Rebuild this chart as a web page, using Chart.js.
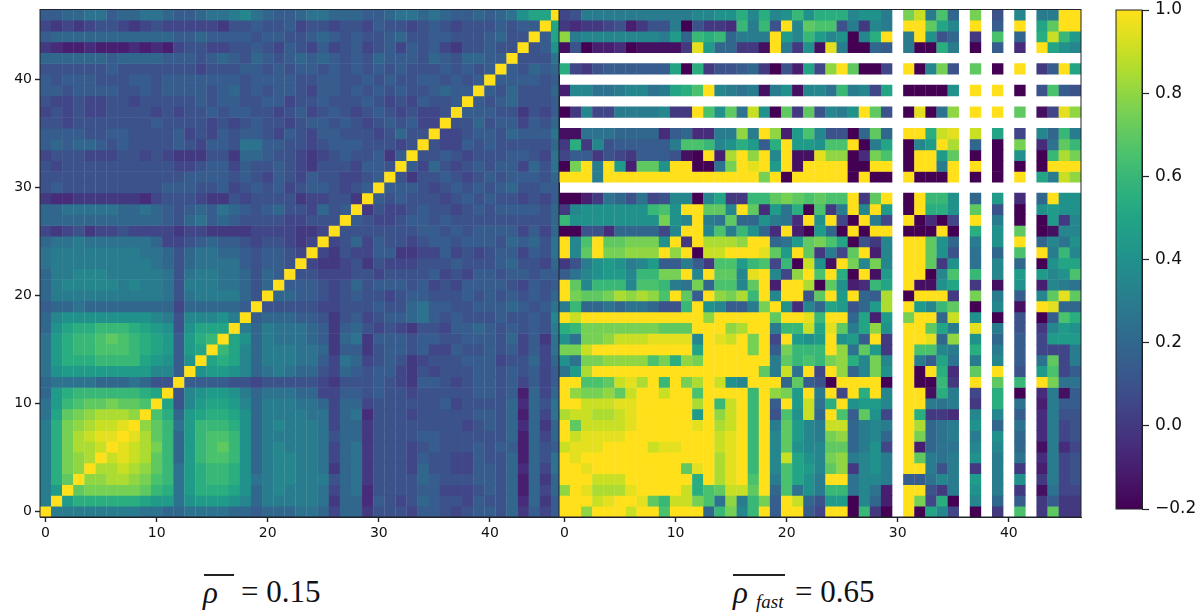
<!DOCTYPE html>
<html><head><meta charset="utf-8">
<script src="https://cdn.jsdelivr.net/npm/chart.js@4"></script>
<style>
html,body{margin:0;padding:0;background:#fff;width:1200px;height:616px;overflow:hidden}
canvas{position:absolute;filter:blur(0.6px)}
.t{position:absolute;font-family:"Liberation Serif",serif;color:#111;white-space:nowrap;line-height:1}
.b{position:absolute;height:2px;background:#222}
</style></head><body>
<canvas id="cL" width="560" height="550" style="left:0;top:0"></canvas>
<canvas id="cR" width="524" height="550" style="left:558px;top:0"></canvas>
<canvas id="cB" width="100" height="530" style="left:1100px;top:0"></canvas>
<div class="b" style="left:204px;top:574px;width:30px"></div>
<span class="t" style="left:203px;top:577px;font-size:31px;font-style:italic">ρ</span>
<span class="t" style="left:241px;top:576px;font-size:31px">= 0.15</span>
<div class="b" style="left:733px;top:574px;width:52px"></div>
<span class="t" style="left:733px;top:577px;font-size:31px;font-style:italic">ρ</span>
<span class="t" style="left:756px;top:592px;font-size:19px;font-style:italic">fast</span>
<span class="t" style="left:795px;top:576px;font-size:31px">= 0.65</span>
<script>
// Cell codes: a=-0.20, b=-0.15 ... y=1.00 (0.05 steps); "." = no value (white)
const CODES = "abcdefghijklmnopqrstuvwxy";
const AXIS_TICKS = [0, 10, 20, 30, 40];
const CBAR_TICKS = [-0.2, 0, 0.2, 0.4, 0.6, 0.8, 1.0];
const VIRIDIS = ["#440154","#482475","#414487","#355f8d","#2a788e","#21918c","#22a884","#44bf70","#7ad151","#bddf26","#ffe01a"];

// Left matrix (all stocks): symmetric, row r holds columns 0..r, bottom row first
const LEFT_LOWER = [
"y",
"k y",
"k n y",
"k p s y",
"k p t u y",
"k p t u v y",
"k p t v v w y",
"k p t v w x x y",
"k p t u v w w x y",
"j o s t u v v v u y",
"j n q r s s t s s r y",
"i n p q q q q q q p o y",
"i j j j j i i i j i g g y",
"j m n n n n n n n n l l h y",
"j n p p p q q q q o n m h m y",
"j n p q q r r r q p o n h n o y",
"j n p q q r s r q p o n h n p q y",
"i m o p p q q q p o n m g m o o o y",
"i l m m m m m m m m l k g l l l m k y",
"h i i j i i i i i i i i f i i i i i h y",
"i k k k k k k k k k k j g j k k k k i g y",
"i k l l l l l k l k k j g k k k j j i g i y",
"i k k l l l k k k k k j g j k k j j i g i h y",
"j k k k k k k k k k j i g i j j j j h g h h g y",
"j k k k k k k k k j j i g i j j i i h g h h g f y",
"i j j k j j j j j j i f f g h i h h g f g g f e f y",
"f e f g e f f g f f f f e f f e e e e f f f f e e f y",
"i i i i i i i i i i i h g i j h i h g g g g f f g g g y",
"i i j j j j j i i j i h g h i h j i h g h i g g f i g h y",
"e d d e e e e e e d f g g g f e e g f g g g g e f f g g e y",
"g h g g g g g g g g g h h h g g h f g h g h f g h h g f g h y",
"g g g g g g g g g g g g g h h h h g h g f h g f h g g f f g h y",
"g f g g g g g g g g g g f f g h h f h g g h g f e g g g f h h g y",
"f g g g f f f g g f g f e e e g g e i i h g g f e f g h g g h e h y",
"h i h i i h g h g g g g h g f h h g j j h h g g f g h h h g g g f g y",
"h h h h g g h h g g g g h f g f h g h h g f h g f h h g g g f g i g g y",
"g g f g g g g g g g h g g g g f g f g h g g f g h h g h g f g h g h f f y",
"f g f g f f g g g g f g f g g h g h h g g f g h f g h g f g h g f g f f g y",
"g f f g f f g g f g g g g g h g h h g g h h f g g h g g g h g f g f h g g h y",
"h h g h h h h g g h g h h h h g h i g h g h h g f h h g h g h g h g g h i h h y",
"h g h h h g g g h h g h h h h h h h g h h h h g g h h g g h g h g g h h g h g h y",
"g g g g g g h g g g g g g g f g g g h h g h g h h g h g h g h g h g g g h g h g h y",
"i i i i i i h i i i i h h h g h i h g i h g h i h i h g h g i h h h g i h g i i h h y",
"e d c c d c c c d c d c f g g f f g g h g f h g f h f g h f g h f h g h f e g g h g g y",
"h i i i i i i i i i i i h h i h h h h g h h g g h i h g h g g h i g g h h g g g h i g g y",
"f e f e f g g f e f g f f f f f e g g h g g h f g g f g g f h g g f g h g f g g g h g h h y",
"h h i i j j h i i j j i h h i j j k l j i h h i j j i i i h h i j j i j i h h i h i j m o o y"
];

// Right matrix (fast stocks): row r, columns 0..46, bottom row first
const RIGHT_ROWS = [
"y y u y y y w y y r y y y i q t l q y h y y h f  y y a q e a . y a o l f . a . e . r . e s e e",
"y y y w x y y x s q w w t r j u k q t h y w i g  n n a l i c . y t f p a . l . i . h . e h e e",
"u y x v v v x y y y y w p r s w w s y i r j m k  q q j l j c . y y g e k . m . k . e . b j f f",
"y y y w w w y y y y y y p y v x y r y k r o m k  y y j l l k . h h j l k . n . k . m . e k f g",
"y y x y y y y y y y y s x y v x y q y l r o n l  s u e l m k . y y k g k . e . k . e . c k f g",
"y x y y y y y y y y y y y y v x y q y l w o m l  t u k l m k . y s k j k . m . k . j . d k f g",
"w x x x y y y y w x x y y y w x y q y l s m l l  s s i k m f . y c i j j . l . l . i . b k d f",
"y w x x x x y y y y y y y y w x y q y l s n l k  t u i k l i . y t i j k . k . m . i . d k f g",
"y s w w w w x y y y y y x y v w y q y k s n l k  w w i k l k . y v i j k . m . i . j . d k f g",
"v w w v v w x y y y y y n y u w y q y g r m w i  y r h s m f . y p e e d . l . l . h . d k g g",
"y y w w w x x y y y y y v y q w y q y h y n w j  p y m n n l . y y k j k . e . p . j . c k h h",
"y u t t u s w y y w y y r y y y y q y u t n y k  y f y p y l . y y b p k . f . p . a . d k b h",
"y y r r s w x v y q y t v y w m l y y y i s h g  a y y y y a . y a a q e . y . s . q . y t j j",
"j n v y y y y y y y y y y y y y y y s k w j y f  y u i l t m . y a y p d . s . y . g . n r f h",
"m j t t u u u u r t p u t y y y y y y k s q r q  t u p l t l . y k h o j . k . l . h . j s f k",
"t t w y y y y y y y y y o y y y y t y h t q q q  y u j s n e . y r r l k . p . k . h . f f f k",
"m j t t u w w w x x x x l y x w y t y f y n m n  y m n h y e . y y x i u . m . i . h . f n n n",
"p q t t t t t t t s s s y y y u v y y k q q w o  x s k o u m . y y s o k . x . k . g . e l n m",
"y w y y y y y y y y y y y u y y y y y s y y x q  y y i o c n . t y y i w . m . a . g . a h r p",
"k q i i j i j j i g g q y m l h h k t y m d l i  o n g i n v . y n l q s . a . l . b . y x i i",
"y t s s t v u v u r y s h y u t v q y l y y g s  y n y i h v . a y y y e . t . k . h . l s x s",
"y s l q q q l r r q k j t i r r l s y c y y v a  s m c d q o . y b b m o . e . b . m . c l k j",
"h j l m n n l q q t t y l y s s l x y l f u y r  y p a y b n . y y a l r . q . l . n . n l m r",
"e g k m n m k l n h h k h e r r n q r f q a w m  b y t l t l . y y s e m . j . l . i . a m o o",
"y l s y t t u u u y u y a w w y y y x s n y s e  k f s y c l . y y s m g . j . i . r . y k q l",
"y l r y s s t t t m y e y v v v u y y i j n s t  r o a g e l . y y s m i . k . m . y . i l j m",
"a a g g d i i i i f l y y l r k q m i d y c a n  i a y a y y . a a a y a . p . m . s . a b l l",
"q m m m m m m m m t m l y k j s i i m k j d y m  y f a y k f . y a d a f . y . k . a . a n e l",
"e l m m m m m m q r m y y s s l y s d n j p a r  e k y l y n . a y p p m . s . g . a . m n m m",
"a a c e j i g j f g l l a l o e e q q s t s r s  r r y e s y . a y q q m . i . n . d . i y m m",
"...............................................",
"y y y k y y y y y y y y y y y y y y t y a y y y  y y a y a a . y a a a y . a . a . y . o k w u",
"a t y k y n c s s m y y a a j t y x y n y b y y  y y a a y y . a y y k y . y . a . a . a y y y",
"f h h e g f e h h h g b a y c v y u y l y b b x  u u a d t r . a y y n s . a . a . m . a q v t",
"e p e l g h h h h h k r r q l m p n h p y n n m  r r y a k o . a l n y v . i . a . t . d j s q",
"b b j j j i i i i d h i d d k k u k y u c n r l  g g a i s i . y y p w x . w . o . f . l i q k",
"...............................................",
"a e l f f k k k k l e e y r m s j w m a s e s g  l k m y s g . a x a j u . y . y . s . b f x u",
"...............................................",
"c l l j j k l l j k o p r y l k j k b k m b l l  j q k l f o . a a a a m . y . y . a . g r h g",
"...............................................",
"p f e g h h h h h h o a p e g g h i e a g c o f  u y s a a f . y a l t g . s . a . y . e h y o",
"...............................................",
"b g a c c d a b b b b e x n i i e e b y k e m b  x k a a i h . k a a p k . a . h . d . y o m l",
"u k l l l l l l l k n i q p q i k k k y n l q n  l m a l p y . k y m g i . e . r . i . p w q n",
"e d e e f g c e g g k a g e e d q k q g y l s r  r g k e l k . y y s o l . y . h . y . o s y y",
"f g k k k k k k k k k k l l m m p l p l m q m p  p p l m m k . t w k r i . t . g . l . k k y y"
];

function parseCode(ch){ const i = CODES.indexOf(ch); return i < 0 ? null : -0.2 + i * 0.05; }
function mix(a,b,t){ return Math.round(a+(b-a)*t); }
function hex(h){ return [1,3,5].map(i=>parseInt(h.substr(i,2),16)); }
function colorOf(v){
  const t = Math.max(0,Math.min(1,(v+0.2)/1.2))*(VIRIDIS.length-1);
  const i = Math.min(VIRIDIS.length-2,Math.floor(t)), f = t-i;
  const A = hex(VIRIDIS[i]), B = hex(VIRIDIS[i+1]);
  return `rgb(${mix(A[0],B[0],f)},${mix(A[1],B[1],f)},${mix(A[2],B[2],f)})`;
}
const leftPts = [], rightPts = [];
LEFT_LOWER.forEach((s,r)=>{
  s.replace(/ /g,"").split("").forEach((ch,c)=>{
    const v = parseCode(ch);
    leftPts.push({x:c,y:r,v});
    if(c!==r) leftPts.push({x:r,y:c,v});
  });
});
leftPts.sort((p,q)=>p.y-q.y||p.x-q.x);
RIGHT_ROWS.forEach((s,r)=>{
  s.replace(/ /g,"").split("").forEach((ch,c)=>{
    const v = parseCode(ch);
    if(v!==null) rightPts.push({x:c,y:r,v});
  });
});

const INK = "#20232b";
const frame = {id:"frame",afterDraw(ch){const a=ch.chartArea,c=ch.ctx;c.save();c.strokeStyle=INK;c.lineWidth=1;c.strokeRect(a.left,a.top,a.right-a.left,a.bottom-a.top);c.restore();}};
Chart.defaults.font.family = '"DejaVu Sans"';
Chart.defaults.color = "#111";
function ticksAt(list){ return s=>{ s.ticks = list.map(v=>({value:v})); }; }
function noPad(s){ s.paddingLeft=0; s.paddingRight=0; s.paddingTop=0; s.paddingBottom=0; }
function axis(extra){
  return Object.assign({type:"linear",afterBuildTicks:ticksAt(AXIS_TICKS),
    border:{display:true,color:INK},
    grid:{drawOnChartArea:false,drawTicks:true,tickLength:5,tickColor:INK,tickWidth:1.4},
    ticks:{font:{size:14},padding:3,maxRotation:0,autoSkip:false}},extra);
}
function heat(id,pts,xMax,pad,showY){
  const yAxis = {display:showY,min:-0.5,max:46.5};
  if(showY) yAxis.afterFit = s=>{ s.width=40; noPad(s); };
  return new Chart(document.getElementById(id),{
    type:"scatter",
    data:{datasets:[{data:pts,clip:0,pointStyle:"rect",pointRadius:8.05,pointHoverRadius:8.05,pointBorderWidth:0,
      pointBackgroundColor:pts.map(p=>colorOf(p.v))}]},
    options:{responsive:false,animation:false,devicePixelRatio:1,events:[],
      layout:{autoPadding:false,padding:pad},
      plugins:{legend:{display:false},tooltip:{enabled:false},title:{display:false}},
      scales:{
        x:axis({min:-0.5,max:xMax,afterFit:s=>{ s.height=33; noPad(s); }}),
        y:axis(yAxis)
      }},
    plugins:[frame]});
}
heat("cL",leftPts,46.26,{top:9.5,right:0.5,left:0,bottom:0},true);
heat("cR",rightPts,46.5,{top:9.5,right:1,left:1,bottom:0},false);

new Chart(document.getElementById("cB"),{
  type:"bar",
  data:{labels:["rho"],datasets:[{data:[[CBAR_TICKS[0],CBAR_TICKS[CBAR_TICKS.length-1]]],barPercentage:1,categoryPercentage:1,borderWidth:0,
    backgroundColor:c=>{const a=c.chart.chartArea;if(!a)return "#000";
      const g=c.chart.ctx.createLinearGradient(0,a.bottom,0,a.top);
      for(let i=0;i<=24;i++){g.addColorStop(i/24,colorOf(-0.2+i*0.05));}
      return g;}}]},
  options:{responsive:false,animation:false,devicePixelRatio:1,events:[],
    layout:{padding:{left:16,top:10,bottom:21,right:0}},
    plugins:{legend:{display:false},tooltip:{enabled:false}},
    scales:{
      x:{display:false},
      y:{type:"linear",position:"right",min:-0.2,max:1.0,
        afterBuildTicks:ticksAt(CBAR_TICKS),afterFit:s=>{ s.width=58; noPad(s); },
        border:{display:true,color:INK},
        grid:{drawOnChartArea:false,drawTicks:true,tickLength:7,tickColor:INK,tickWidth:1.2},
        ticks:{font:{size:17},padding:6,autoSkip:false,callback:v=>v.toFixed(1).replace("-","\u2212")}}
    }},
  plugins:[frame]});
</script>
</body></html>
